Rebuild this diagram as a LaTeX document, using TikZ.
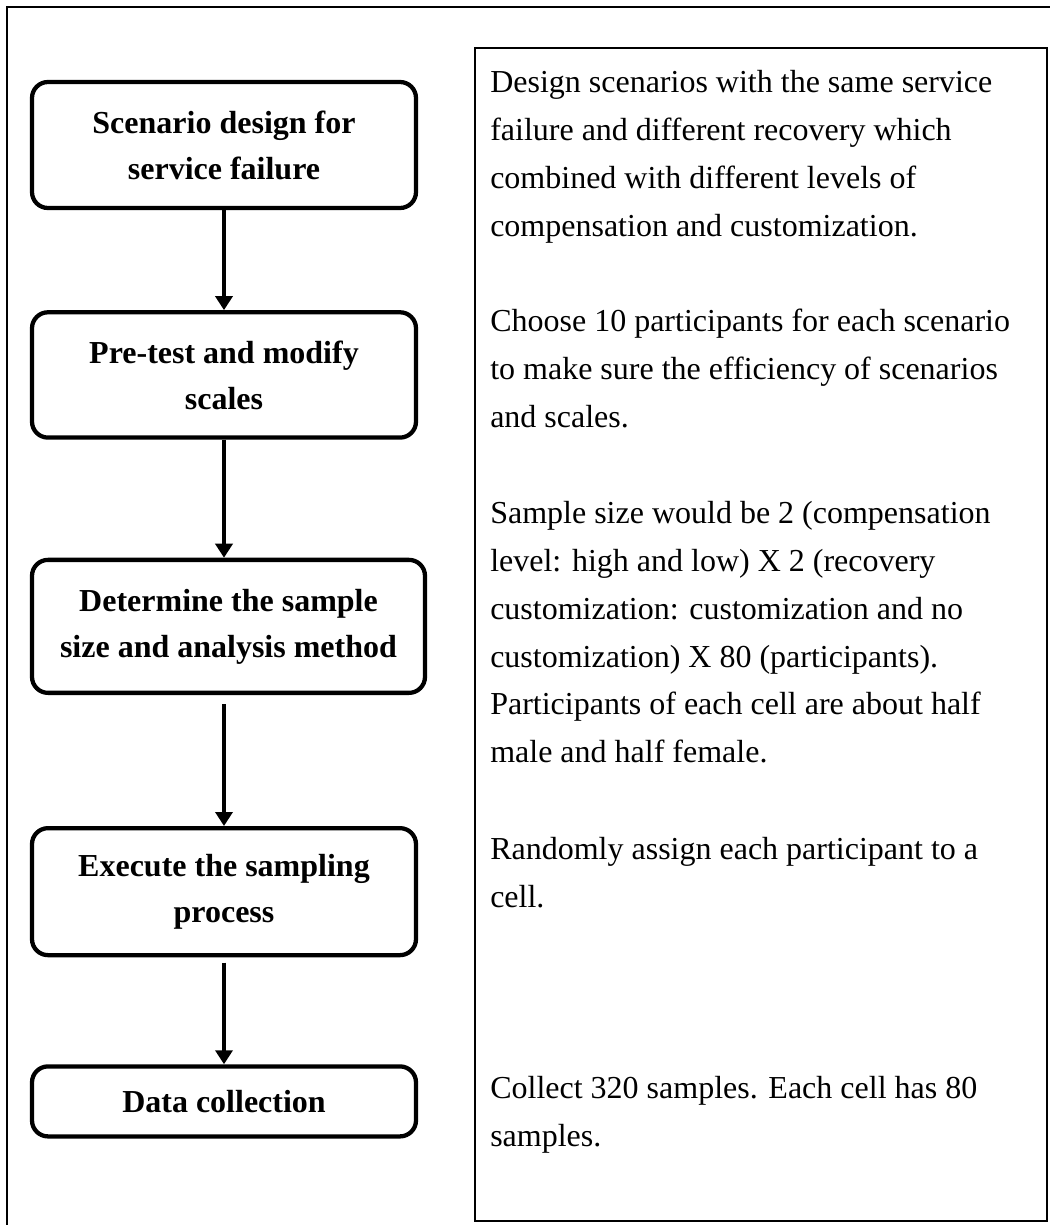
\documentclass[tikz,border=0pt]{standalone}
\usepackage{fontspec}
\setmainfont{Liberation Serif}
\usetikzlibrary{arrows.meta, positioning}
\tikzset{
    stepbox/.style={
        rectangle, rounded corners=12pt, draw=black, line width=3.2pt,
        minimum width=288pt, minimum height=94.5pt, inner sep=4pt,
        font=\fontsize{24}{34.5}\selectfont\bfseries, align=center
    },
    notebox/.style={
        rectangle, draw=black, line width=1.4pt, inner sep=0pt
    },
    notetext/.style={
        font=\fontsize{24}{35.9}\selectfont, align=left,
        inner sep=0pt, anchor=north west
    },
    flowarrow/.style={
        -{Triangle[length=10.5pt, width=12.75pt]}, line width=3pt
    },
    framebox/.style={line width=1.2pt},
}
\begin{document}
\begin{tikzpicture}[x=0.75pt, y=-0.75pt]
    \useasboundingbox (0,0) rectangle (1050,1225);

    % Outer frame
    \draw[framebox] (7,1225) -- (7,7) -- (1050,7);

    % Left column: steps
    \node[stepbox] (design) at (224,145) {Scenario design for\\service failure};
    \node[stepbox, minimum height=94pt, below=75pt of design] (pretest) {Pre-test and modify\\scales};
    \node[stepbox, minimum width=294.75pt, minimum height=99.75pt, below=88.5pt of pretest.south west, anchor=north west] (samplesize) {Determine the sample\\size and analysis method};
    \node[stepbox, minimum height=95.25pt, below=98.25pt of samplesize.south west, anchor=north west] (execute) {Execute the sampling\\process};
    \node[stepbox, minimum height=52.5pt, below=80.25pt of execute.south west, anchor=north west] (collect) {Data collection};

    % Right column: description box
    \node[notebox, anchor=north west, minimum width=429pt, minimum height=879.75pt] (notes) at (474,47) {};
    \node[notetext] (designtxt) at (490,70) {Design scenarios with the same service\\failure and different recovery which\\combined with different levels of\\compensation and customization.};
    \node[notetext] (pretesttxt) at (490,309) {Choose 10 participants for each scenario\\to make sure the efficiency of scenarios\\and scales.};
    \node[notetext] (sizetxt) at (490,501) {Sample size would be 2 (compensation\\level: high and low) X 2 (recovery\\customization: customization and no\\customization) X 80 (participants).\\Participants of each cell are about half\\male and half female.};
    \node[notetext] (assigntxt) at (490,837) {Randomly assign each participant to a\\cell.};
    \node[notetext] (collecttxt) at (490,1076) {Collect 320 samples. Each cell has 80\\samples.};

    % Vertical flow
    \draw[flowarrow] (design) -- (pretest);
    \draw[flowarrow] (pretest.south) -- (pretest.south |- samplesize.north);
    \draw[flowarrow, shorten <=7pt] (execute.north |- samplesize.south) -- (execute.north);
    \draw[flowarrow, shorten <=4pt] (execute) -- (collect);

\end{tikzpicture}
\end{document}
